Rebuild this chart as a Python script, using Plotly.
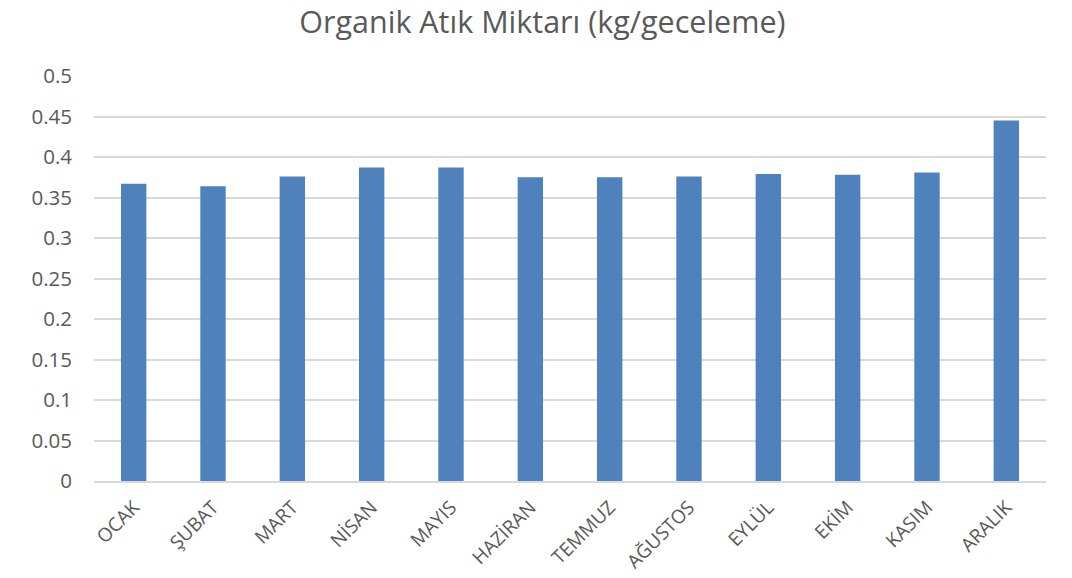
import plotly.graph_objects as go

months = ["OCAK", "ŞUBAT", "MART", "NİSAN", "MAYIS", "HAZİRAN", "TEMMUZ",
          "AĞUSTOS", "EYLÜL", "EKİM", "KASIM", "ARALIK"]
values = [0.367, 0.364, 0.376, 0.387, 0.387, 0.375, 0.375,
          0.376, 0.379, 0.378, 0.381, 0.445]
y_ticks = [0, 0.05, 0.1, 0.15, 0.2, 0.25, 0.3, 0.35, 0.4, 0.45, 0.5]
y_tick_text = ["0", "0.05", "0.1", "0.15", "0.2", "0.25", "0.3", "0.35", "0.4", "0.45", "0.5"]

fig = go.Figure(go.Bar(x=months, y=values, marker=dict(color="#4F81BD", line=dict(width=0))))

fig.update_layout(
    width=1072, height=578,
    paper_bgcolor="white", plot_bgcolor="white",
    margin=dict(l=94, r=26, t=76, b=97, autoexpand=False),
    title=dict(text="Organik Atık Miktarı (kg/geceleme)", x=0.506, xanchor="center",
               y=0.962, yanchor="middle",
               font=dict(family="Open Sans", size=30.5, color="#595959")),
    bargap=0.68,
    showlegend=False,
    font=dict(family="Open Sans", color="#595959"),
)
fig.update_yaxes(range=[0, 0.5], tickvals=y_ticks, ticktext=y_tick_text,
                 showgrid=True, gridcolor="#D9D9D9", gridwidth=1.5,
                 zeroline=False, showline=False,
                 tickfont=dict(size=20.5, color="#595959"), ticklabelstandoff=21)
fig.update_xaxes(showline=True, linecolor="#D9D9D9", linewidth=1.5,
                 tickangle=-45, tickfont=dict(size=19, color="#595959"),
                 ticklabelstandoff=6)

fig.write_html("out.html",
               config={"displayModeBar": False},
               post_script="document.body.style.margin='0';document.body.style.overflow='hidden';")
